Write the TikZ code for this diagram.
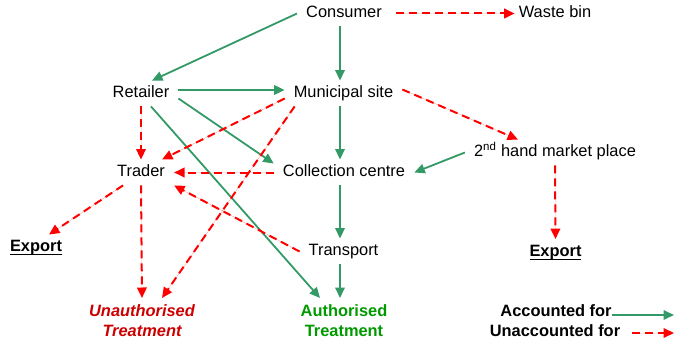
\documentclass[tikz,border=0pt]{standalone}
\usepackage{fontspec}
\setmainfont{Liberation Sans}
\usetikzlibrary{positioning,arrows.meta}
\definecolor{okgreen}{HTML}{339966}
\definecolor{lostred}{HTML}{FF0000}
\definecolor{unauthred}{HTML}{CC0000}
\definecolor{authgreen}{HTML}{009900}
\newcommand{\diagfont}{\fontsize{16.4}{20}\selectfont}
\newcommand{\ulword}[1]{\leavevmode\setbox0\hbox{#1}\rlap{\rule[-3.5pt]{\wd0}{1.2pt}}\copy0}

\begin{document}
\begin{tikzpicture}[x=1pt,y=-1pt,>={Triangle[length=10.5pt,width=9.5pt]},
    lbl/.style={font=\diagfont, text height=12pt, text depth=3.5pt, inner xsep=9pt, inner ysep=5pt},
    outc/.style={font=\diagfont\bfseries, align=center, anchor=north, inner sep=6pt},
    okline/.style={->, draw=okgreen, fill=okgreen, line width=1.8pt},
    lostline/.style={->, draw=lostred, fill=lostred, line width=2pt, dash pattern=on 8pt off 5pt}]
    \useasboundingbox (0,0) rectangle (674,342);
    % flow nodes
    \node[lbl] (cons) at (344,13.5) {Consumer};
    \node[lbl] (bin) at (555,13.5) {Waste bin};
    \node[lbl] (ret) at (141,93.5) {Retailer};
    \node[lbl] (muni) at (343.5,93.5) {Municipal site};
    \node[lbl] (trad) at (141,172.5) {Trader};
    \node[lbl] (coll) at (344,172.5) {Collection centre};
    \node[lbl] (hand) at (555,152.5) {2\textsuperscript{nd} hand market place};
    \node[lbl] (trans) at (343.5,251.5) {Transport};
    \node[lbl,font=\diagfont\bfseries] (expL) at (36,247.5) {\ulword{Export}};
    \node[lbl,font=\diagfont\bfseries] (expR) at (555.5,252) {\ulword{Export}};
    \node[outc,text=unauthred,font=\diagfont\bfseries\itshape] (unauth) at (142,298) {Unauthorised\\Treatment};
    \node[outc,text=authgreen] (auth) at (344,298) {Authorised\\Treatment};
    % legend
    \node[lbl,font=\diagfont\bfseries,inner xsep=0pt] (keyAcc) at (556,312) {Accounted for};
    \node[lbl,font=\diagfont\bfseries,inner xsep=12pt] (keyUnacc) at (555,332) {Unaccounted for};
    \coordinate (accEnd) at (674,315);
    \coordinate (unaccEnd) at (674,333);

    % accounted for
    \draw[okline] (cons.west) -- ([xshift=11pt]ret.north);
    \draw[okline] ([xshift=-4pt]cons.south) -- ([xshift=-3.5pt]muni.north);
    \draw[okline] ([yshift=3.5pt]ret.east) -- ([yshift=3.5pt]muni.west);
    \draw[okline] ([yshift=-5pt]ret.east) -- ([yshift=-4pt]coll.north west);
    \draw[okline] ([xshift=10pt]ret.south) -- ([xshift=-24pt]auth.north);
    \draw[okline] ([xshift=-3.5pt]muni.south) -- ([xshift=-4pt]coll.north);
    \draw[okline] ([xshift=-4pt]coll.south) -- ([xshift=-3.5pt]trans.north);
    \draw[okline] ([xshift=-3.5pt]trans.south) -- ([xshift=-4pt]auth.north);
    \draw[okline] (hand.west) -- (coll.east);
    \draw[okline] (keyAcc.east |- accEnd) -- (accEnd);

    % unaccounted for
    \draw[lostline] ([xshift=5pt]cons.east) -- ([xshift=5pt]bin.west);
    \draw[lostline] (ret.south) -- (trad.north);
    \draw[lostline] ([yshift=-5pt]muni.west) -- ([xshift=21pt]trad.north);
    \draw[lostline] ([xshift=10pt]muni.south west) -- ([xshift=20pt]unauth.north);
    \draw[lostline] ([yshift=4pt]muni.east) -- ([xshift=-37pt]hand.north);
    \draw[lostline] (coll.west) -- (trad.east);
    \draw[lostline] (trans.west) -- (trad.south east);
    \draw[lostline] ([xshift=-18pt]trad.south) -- ([xshift=13pt]expL.north);
    \draw[lostline] (trad.south) -- (unauth.north);
    \draw[lostline] (hand.south) -- (expR.north);
    \draw[lostline] (keyUnacc.east |- unaccEnd) -- (unaccEnd);
\end{tikzpicture}
\end{document}
